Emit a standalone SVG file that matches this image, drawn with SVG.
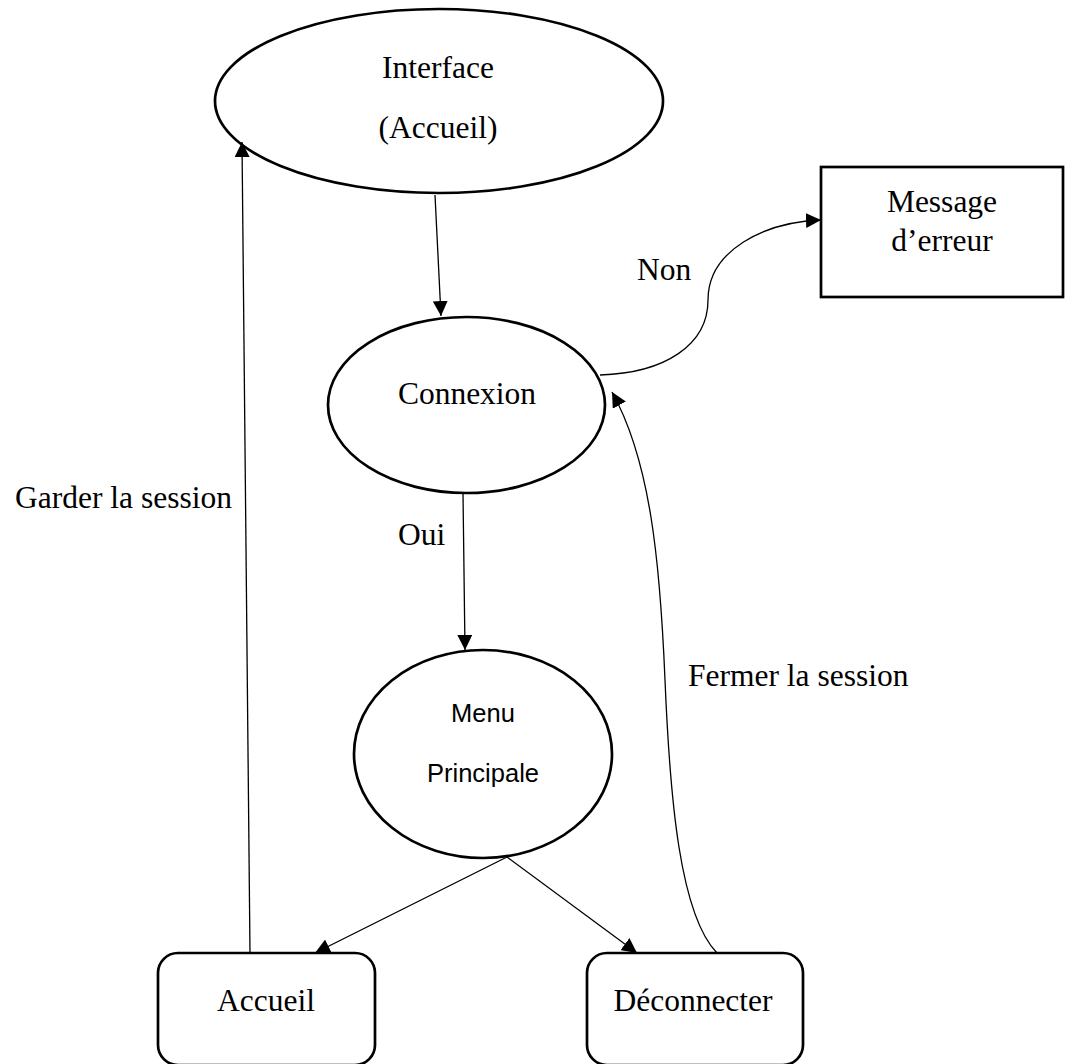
<svg xmlns="http://www.w3.org/2000/svg" width="1072" height="1064" viewBox="0 0 1072 1064">
<style>
.shape{fill:#fff;stroke:#000;stroke-width:2.7}
.t{font-family:"Liberation Serif","Times New Roman",serif;font-size:31.5px;fill:#000;text-anchor:middle}
.ts{font-family:"Liberation Sans",Arial,sans-serif;font-size:25.5px;fill:#000;text-anchor:middle}
.lbl{font-family:"Liberation Serif","Times New Roman",serif;font-size:31.5px;fill:#000}
.c{fill:none;stroke:#000;stroke-width:1.3}
</style>
<defs>
<marker id="arr" markerUnits="userSpaceOnUse" markerWidth="15" markerHeight="15" refX="15" refY="7.5" orient="auto" viewBox="0 0 15 15">
<path d="M0,0 L15,7.5 L0,15 z" fill="#000"/>
</marker>
</defs>
<rect width="1072" height="1064" fill="#fff"/>
<g id="interface">
<ellipse class="shape" cx="439" cy="101" rx="224" ry="92"/>
<text class="t" x="438" y="78">Interface</text>
<text class="t" x="438" y="138">(Accueil)</text>
</g>
<g id="message">
<rect class="shape" x="821" y="167" width="242" height="130"/>
<text class="t" x="942" y="212">Message</text>
<text class="t" x="942" y="251">d’erreur</text>
</g>
<g id="connexion">
<ellipse class="shape" cx="466.5" cy="405" rx="138.5" ry="88"/>
<text class="t" x="467" y="404">Connexion</text>
</g>
<g id="menu">
<ellipse class="shape" cx="483" cy="754" rx="129" ry="104"/>
<text class="ts" x="483" y="722">Menu</text>
<text class="ts" x="483" y="782">Principale</text>
</g>
<g id="accueil">
<rect class="shape" x="158" y="953" width="217" height="112" rx="20"/>
<text class="t" x="266" y="1011">Accueil</text>
</g>
<g id="deconnecter">
<rect class="shape" x="587" y="953" width="216" height="112" rx="20"/>
<text class="t" x="693" y="1011">Déconnecter</text>
</g>
<g id="connectors">
<line class="c" x1="435" y1="195" x2="441" y2="316" marker-end="url(#arr)"/>
<line class="c" x1="463" y1="493" x2="465" y2="650" marker-end="url(#arr)"/>
<path class="c" d="M600,375 C665,373 708,345 708,300 C708,250 765,222 821,220" marker-end="url(#arr)"/>
<line class="c" x1="507" y1="857" x2="315" y2="953" marker-end="url(#arr)"/>
<line class="c" x1="507" y1="857" x2="637" y2="953" marker-end="url(#arr)"/>
<line class="c" x1="250" y1="953" x2="242" y2="142" marker-end="url(#arr)"/>
<path class="c" d="M717,953 C680,915 670,800 665,680 C660,560 650,460 612,392" marker-end="url(#arr)"/>
</g>
<g id="labels">
<text class="lbl" x="637" y="280">Non</text>
<text class="lbl" x="398" y="545">Oui</text>
<text class="lbl" x="15" y="508">Garder la session</text>
<text class="lbl" x="688" y="686">Fermer la session</text>
</g>
</svg>
